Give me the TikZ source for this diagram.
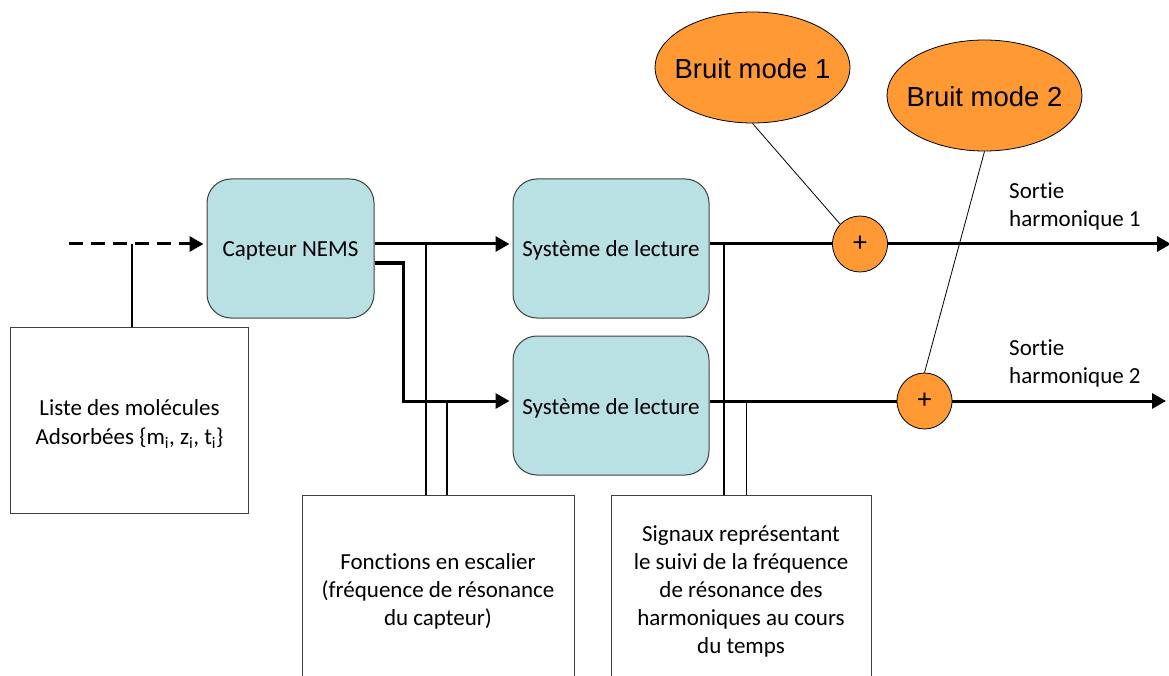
\documentclass[tikz,border=0pt]{standalone}
\usepackage{fontspec}
\setmainfont[Ligatures=NoCommon]{Carlito}
\setsansfont{Liberation Sans}
\usetikzlibrary{shapes.geometric,arrows.meta}
\definecolor{teal}{HTML}{B9E0E3}
\definecolor{orng}{HTML}{FF9933}
\definecolor{edge}{HTML}{404040}
\tikzset{
  x=1pt,y=-1pt,
  block/.style={draw=edge,line width=1pt,fill=teal,rounded corners=24pt,inner sep=0pt,minimum height=139pt,text depth=0pt,font=\fontsize{23}{28}\selectfont},
  note/.style={draw=edge,line width=1pt,fill=white,inner sep=0pt,align=center,font=\fontsize{23}{28}\selectfont},
  noisy/.style={draw=black,line width=0.8pt,fill=orng,ellipse,inner sep=0pt,minimum width=195pt,minimum height=111pt},
  noisytext/.style={inner sep=0pt,font=\fontsize{27.5}{32}\sffamily\selectfont},
  adder/.style={draw=black,line width=0.8pt,fill=orng,ellipse,inner sep=0pt,minimum width=55pt,minimum height=56pt,font=\fontsize{28}{28}\selectfont},
  plain/.style={inner sep=0pt,align=left,font=\fontsize{23}{28}\selectfont},
  sig/.style={line width=3pt,shorten >=3pt,-{Triangle[length=14pt,width=15pt]}},
  outsig/.style={line width=3pt,-{Triangle[length=14pt,width=15pt]}},
  link/.style={line width=1.5pt},
  thinlink/.style={line width=0.8pt},
}
\begin{document}
\begin{tikzpicture}
\useasboundingbox (0,0) rectangle (1169,676);
% blocks
\node[block,minimum width=167pt,text height=17pt] (cap) at (290.5,248.5) {Capteur NEMS};
\node[block,minimum width=196pt,text height=15.5pt] (sys1) at (611,248.5) {Système de lecture};
\node[block,minimum width=196pt,text height=17pt] (sys2) at (611,405.5) {Système de lecture};
% notes
\node[note,minimum width=238pt,minimum height=186pt] (liste) at (129.5,420) {};
\node[inner sep=0pt,align=center,font=\fontsize{23}{28.5}\selectfont] (listet) at (129.5,424) {Liste des molécules\\Adsorbées \{m$_{\mathrm{i}}$, z$_{\mathrm{i}}$, t$_{\mathrm{i}}$\}};
\node[note,minimum width=272pt,minimum height=192pt,anchor=north] (fonc) at (438,495) {Fonctions en escalier\\(fréquence de résonance\\du capteur)};
\node[note,minimum width=260pt,minimum height=192pt,anchor=north] (sign) at (741,495) {Signaux représentant\\le suivi de la fréquence\\de résonance des\\harmoniques au cours\\du temps};
% adders and noise
\node[adder] (p1) at (860,244) {+};
\node[adder] (p2) at (924.5,401) {+};
\node[noisy] (b1) at (752.5,67.5) {};
\node[noisytext] (b1t) at (752.5,69) {Bruit mode 1};
\node[noisy] (b2) at (984.5,95.5) {};
\node[noisytext] (b2t) at (984.5,97) {Bruit mode 2};
% labels
\node[plain,anchor=west] (s1) at (1009,206) {Sortie\\harmonique 1};
\node[plain,anchor=west] (s2) at (1009,363) {Sortie\\harmonique 2};
% free ends
\coordinate (in) at (69,244);
\coordinate (indash) at (190,244);
\coordinate (out1) at (1171,244);
\coordinate (out2) at (1166,401);
\coordinate (tap1) at (132,244);
\coordinate (bend1) at (403,263);
\coordinate (bend2) at (403,401);
% connectors
\draw[line width=3pt,dash pattern=on 14pt off 8pt] (in) -- (indash);
\draw[sig] (indash) -- (cap.west |- in);
\draw[link] (liste.north -| tap1) -- (tap1);
\draw[sig] (cap.east |- in) -- (sys1.west |- in);
\draw[sig] (cap.east |- bend1) -- (bend1) -- (bend2) -- (sys2.west |- bend2);
\draw[line width=4pt] (cap.east |- bend1) -- (bend1);
\draw[link] (fonc.north -| 426,0) -- (426,244);
\draw[link] (fonc.north -| 447,0) -- (447,401);
\draw[link] (sign.north -| 724,0) -- (724,244);
\draw[thinlink] (sign.north -| 746,0) -- (746,401);
\draw[line width=3pt] (sys1.east |- p1) -- (p1);
\draw[line width=3pt] (sys2.east |- p2) -- (p2);
\draw[outsig] (p1.east) -- (out1);
\draw[outsig] (p2.east) -- (out2);
\draw[thinlink] (b1.south) -- (p1.135);
\draw[thinlink] (b2.south) -- (p2.north);
\end{tikzpicture}
\end{document}
